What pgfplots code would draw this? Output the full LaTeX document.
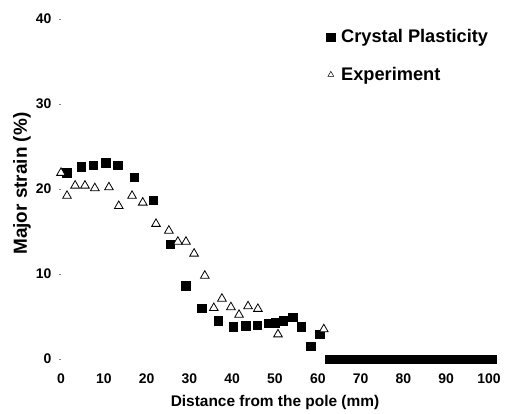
\documentclass[border=0pt]{standalone}
\usepackage{pgfplots}
\pgfplotsset{compat=1.18}
\usepackage{fontspec}
\setmainfont{Liberation Sans}
\begin{document}
\begin{tikzpicture}[x=1bp,y=1bp]
\begin{axis}[
  name=ax,
  at={(0,0)}, anchor=south west,
  scale only axis,
  width=428bp, height=340bp,
  xmin=0, xmax=100, ymin=0, ymax=40,
  clip=false,
  axis line style={draw=none},
  xtick={0,10,...,100}, ytick={0,10,...,40},
  xtick style={draw=none},
  ytick pos=left,
  ytick style={gray, line width=0.4pt},
  major tick length=2bp,
  tick align=outside,
  tick label style={font=\fontsize{14}{16}\selectfont\bfseries},
  /pgf/number format/assume math mode=true,
  xticklabel style={yshift=-9bp},
  yticklabel style={xshift=-4bp},
  xlabel={\fontsize{15.5}{17}\selectfont\bfseries Distance from the pole (mm)},
  xlabel style={at={(axis description cs:0.5,0)}, anchor=center, yshift=-44bp},
  ylabel={\fontsize{19}{21}\selectfont\bfseries Major strain (\%)},
  ylabel style={at={(axis description cs:-0.091,0.516)}, anchor=center},
  legend style={draw=none, fill=none, at={(rel axis cs:0.62,0.975)}, anchor=north west,
    font=\fontsize{18.3}{20}\selectfont\bfseries, row sep=19bp, column sep=4bp, inner sep=0pt,
    nodes={inner sep=2pt}},
  legend cell align=left,
]
\addplot[only marks, mark=square*, mark size=4.3bp, black] coordinates {
(1.4,21.9) (4.7,22.6) (7.5,22.8) (10.5,23.1) (13.3,22.8) (17.1,21.4) (21.5,18.7)
(25.5,13.5) (29.2,8.6) (32.9,6.0) (36.7,4.5) (40.2,3.8) (43.2,3.9) (45.8,4.0)
(48.4,4.2) (50.0,4.3) (51.9,4.5) (54.2,4.9) (56.1,3.8) (58.4,1.5) (60.5,2.9)
(62.7,0) (64.2,0) (65.7,0) (67.2,0) (68.8,0) (70.3,0) (71.8,0) (73.3,0) (74.8,0)
(76.3,0) (77.9,0) (79.4,0) (80.9,0) (82.4,0) (83.9,0) (85.4,0) (87.0,0) (88.5,0)
(90.0,0) (91.5,0) (93.0,0) (94.5,0) (96.1,0) (97.6,0) (99.1,0) (100.6,0)
};
\addlegendentry{Crystal Plasticity}
\addplot[only marks, mark=triangle*, mark size=5bp, mark options={fill=white, draw=black, line width=0.8pt},
  legend image post style={mark size=3.4bp, mark options={fill=white, draw=black, line width=0.5pt}}] coordinates {
(0,21.9) (1.4,19.2) (3.3,20.4) (5.6,20.4) (7.9,20.1) (11.2,20.2) (13.5,18.0)
(16.6,19.2) (19.1,18.4) (22.2,15.9) (25.2,15.1) (27.3,13.8) (29.2,13.8) (31.1,12.4)
(33.6,9.8) (35.7,6.0) (37.6,7.1) (39.7,6.1) (41.6,5.2) (43.7,6.2) (46.0,5.9)
(50.7,2.9) (61.4,3.5)
};
\addlegendentry{Experiment}
\end{axis}
\path[use as bounding box] (-61bp,-47bp) rectangle (450bp,359bp);
\end{tikzpicture}
\end{document}
